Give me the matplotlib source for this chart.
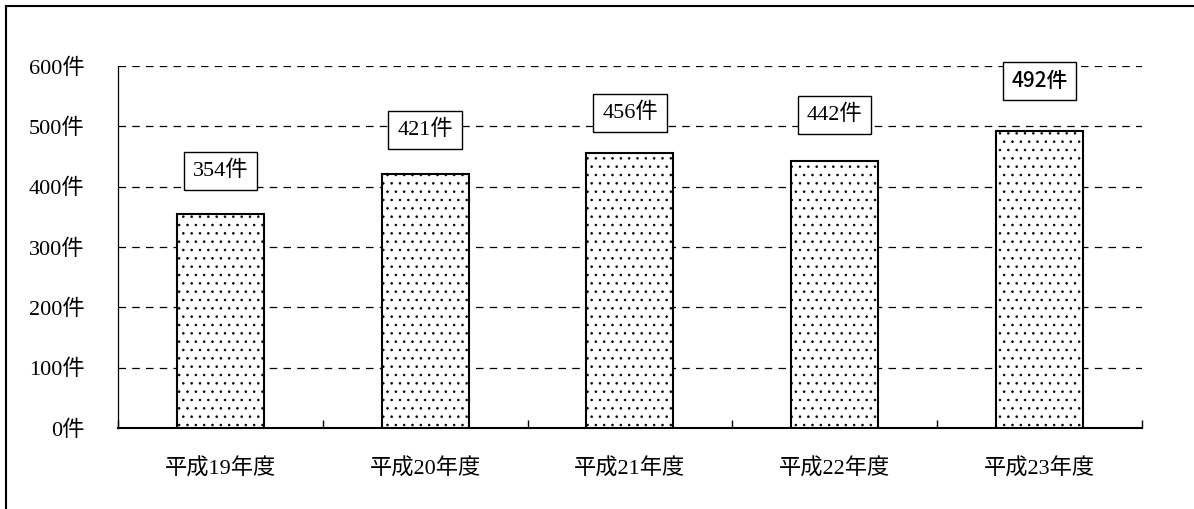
#%%
# Dependencies
import matplotlib
matplotlib.use('Agg')
import matplotlib.pyplot as plt
from matplotlib.patches import Rectangle

plt.rcParams['font.family'] = ['Liberation Serif', 'Noto Sans CJK JP']
plt.rcParams['hatch.linewidth'] = 0.6
plt.rcParams['hatch.color'] = '#555555'

#%%
# Data
years = ['平成19年度', '平成20年度', '平成21年度', '平成22年度', '平成23年度']
counts = [354, 421, 456, 442, 492]
yticks = [0, 100, 200, 300, 400, 500, 600]
label_y = [426, 494, 522, 519, 575]   # where the boxed labels sit (data units)

#%%
fig = plt.figure(figsize=(11.94, 5.09), dpi=100)
ax = fig.add_axes([0.0988, 0.159, 0.8576, 0.7113])

x = list(range(len(years)))
ax.bar(x, counts, width=0.425, color='white', edgecolor='black',
       linewidth=1.5, hatch='..', zorder=3)

ax.set_xlim(-0.5, len(years) - 0.5)
ax.set_ylim(0, 600)
ax.set_yticks(yticks)
ax.set_yticklabels([f'{v}件' for v in yticks], fontsize=16)
ax.set_xticks(x)
ax.set_xticklabels(years, fontsize=16)
ax.tick_params(axis='x', length=0, pad=22)
ax.tick_params(axis='y', length=0, pad=24)
# category boundary ticks pointing up
ax.set_xticks([i - 0.5 for i in range(len(years) + 1)], minor=True)
ax.tick_params(axis='x', which='minor', direction='in', length=6, width=1)

ax.yaxis.grid(True, linestyle=(0, (6, 5)), color='black', linewidth=0.9, zorder=1)
for s in ['top', 'right']:
    ax.spines[s].set_visible(False)
ax.spines['left'].set_linewidth(0.9)
ax.spines['bottom'].set_linewidth(1.5)

box = dict(boxstyle='square,pad=0.4', facecolor='white', edgecolor='black', linewidth=1)
for i, (v, ly) in enumerate(zip(counts, label_y)):
    if i == len(counts) - 1:
        ax.text(i, ly, f'{v}件', ha='center', va='center', fontsize=15,
                family=['Noto Sans CJK JP', 'DejaVu Sans'], fontweight='medium',
                bbox=box, zorder=4)
    else:
        ax.text(i, ly, f'{v}件', ha='center', va='center', fontsize=16,
                bbox=box, zorder=4)

# outer frame (cut off at right and bottom)
fig.patches.append(Rectangle((6 / 1194, -0.1), 1.2, 1 - 6 / 509 + 0.1,
                             transform=fig.transFigure, fill=False,
                             edgecolor='black', linewidth=1.5))

fig.savefig('out.png', dpi=100)
